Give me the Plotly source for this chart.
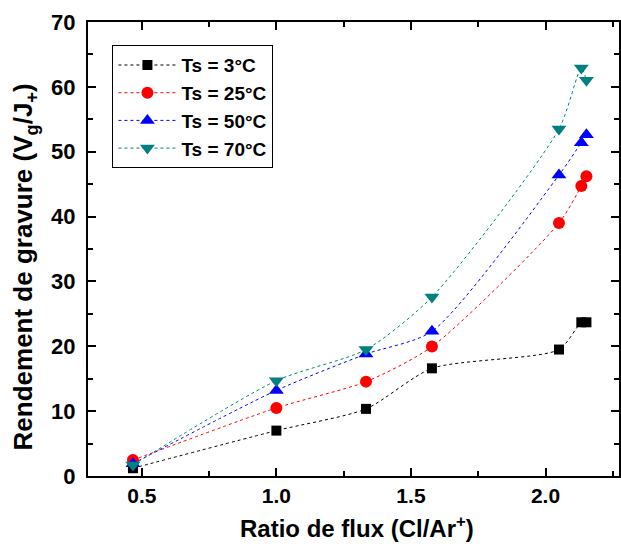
import plotly.graph_objects as go

# Flux ratio Cl/Ar+ (x) and etch yield for each substrate temperature
ratio = [0.467, 1.0, 1.333, 1.578, 2.05, 2.133, 2.152]
yield_3c = [1.2, 7.0, 10.35, 16.6, 19.5, 23.7, 23.7]
yield_25c = [2.45, 10.5, 14.55, 19.95, 39.0, 44.7, 46.2]
yield_50c = [1.9, 13.2, 18.8, 22.3, 46.4, 51.4, 52.6]
yield_70c = [1.7, 14.7, 19.5, 27.6, 53.5, 62.9, 61.0]

series_names = ["Ts = 3°C", "Ts = 25°C", "Ts = 50°C", "Ts = 70°C"]
series_values = [yield_3c, yield_25c, yield_50c, yield_70c]
series_colors = ["#000000", "#FF0000", "#0000FF", "#008080"]
series_symbols = ["square", "circle", "triangle-up", "triangle-down"]
series_sizes = [10, 12, 13, 13]

FONT = "Liberation Sans, Arial, sans-serif"

fig = go.Figure()
for name, vals, col, sym, sz in zip(series_names, series_values, series_colors,
                                     series_symbols, series_sizes):
    fig.add_trace(go.Scatter(
        x=ratio, y=vals, name=name, mode="lines+markers",
        line=dict(color=col, width=1, dash="3px,3px", shape="spline", smoothing=0.7),
        marker=dict(symbol=sym, size=sz, color=col, line=dict(width=0)),
    ))

axis_common = dict(
    showline=True, linecolor="black", linewidth=2,
    mirror="ticks", ticks="inside", ticklen=8, tickwidth=2, tickcolor="black",
    showgrid=False, zeroline=False,
)

fig.update_layout(
    width=621, height=550,
    margin=dict(l=88, r=0, t=22, b=74),
    paper_bgcolor="white", plot_bgcolor="white",
    font=dict(family=FONT, color="black"),
    xaxis=dict(
        range=[0.3, 2.273], tickvals=[0.5, 1.0, 1.5, 2.0],
        ticktext=["0.5", "1.0", "1.5", "2.0"],
        tickfont=dict(size=21, family=FONT, weight="bold"),
        minor=dict(dtick=0.25, tick0=0.25, ticks="inside", ticklen=5, tickwidth=2,
                   tickcolor="black"),
        ticklabelstandoff=0,
        **axis_common,
    ),
    yaxis=dict(
        range=[0, 70], dtick=10,
        tickfont=dict(size=22, family=FONT, weight="bold"),
        minor=dict(dtick=5, ticks="inside", ticklen=5, tickwidth=2, tickcolor="black"),
        ticklabelstandoff=6,
        **axis_common,
    ),
    legend=dict(
        x=0.046, y=0.949, xanchor="left", yanchor="top",
        bgcolor="white", bordercolor="black", borderwidth=1,
        font=dict(size=19, family=FONT, weight="bold"),
        itemwidth=58,
    ),
    showlegend=True,
)

# Axis titles
fig.add_annotation(
    text="<b>Ratio de flux (Cl/Ar<sup>+</sup>)</b>",
    xref="paper", yref="paper", x=0.507, y=-0.112,
    xanchor="center", yanchor="middle", showarrow=False,
    font=dict(size=24, family=FONT, color="black"),
)
fig.add_annotation(
    text="<b>Rendement de gravure (V<sub>g</sub>/J<sub>+</sub>)</b>",
    xref="paper", yref="paper", x=-0.12, y=0.46,
    xanchor="center", yanchor="middle", textangle=-90, showarrow=False,
    font=dict(size=26, family=FONT, color="black"),
)

fig.write_html("out.html")
